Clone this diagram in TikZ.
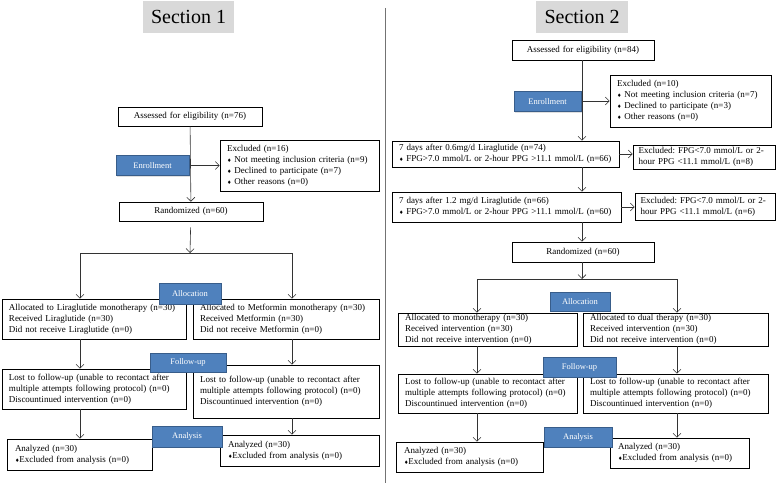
\documentclass[tikz,border=0pt]{standalone}
\usepackage{fontspec}
\setmainfont{Liberation Serif}
\newfontfamily\symfont{DejaVu Sans}
\usetikzlibrary{arrows.meta,shadows}
\definecolor{phaseblue}{HTML}{4F81BD}
\definecolor{phaseedge}{HTML}{385D8A}
\newcommand{\dmd}{{\symfont\fontsize{5}{5}\selectfont ♦}}
\frenchspacing

\begin{document}
\begin{tikzpicture}[x=1pt, y=-1pt,
    box/.style ={draw, line width=0.6pt, inner xsep=7pt, inner ysep=0pt, align=left, font=\fontsize{9}{11}\selectfont},
    cbox/.style ={box, align=center},
    phase/.style ={draw=phaseedge, fill=phaseblue, line width=1pt, text=white, inner sep=0pt, font=\fontsize{8.5}{9}\selectfont, drop shadow={opacity=0.25, shadow xshift=1pt, shadow yshift=-1pt}},
    heading/.style ={fill=black!15, inner sep=0pt, font=\fontsize{20}{22}\selectfont},
    ln/.style ={draw=black!80, line width=0.6pt},
    arr/.style ={ln, -{Straight Barb[length=4pt, width=8pt]}}]
   \useasboundingbox (0,0) rectangle (778,486);
   \draw[black!55, line width=0.8pt] (385,8) -- (385,483);

   \node[heading, minimum width=91pt, minimum height=32pt] (title1) at (188.5,17) {Section 1};
   \node[cbox, text width=130pt, minimum height=19pt] (asses1) at (190,116.5) {Assessed for eligibility (n=76)};
   \node[box, text width=145pt, minimum height=51pt] (excl1) at (299.5,165.5) {Excluded (n=16)\\ \dmd\ Not meeting inclusion criteria (n=9)\\ \dmd\ Declined to participate (n=7)\\ \dmd\ Other reasons (n=0)};
   \node[cbox, text width=130pt, minimum height=19pt] (rand1) at (191,211.5) {Randomized (n=60)};
   \node[box, text width=170pt, minimum height=40pt] (allocL1) at (94,319) {Allocated to Liraglutide monotherapy (n=30)\\ Received Liraglutide (n=30)\\ Did not receive Liraglutide (n=0)};
   \node[box, text width=172pt, minimum height=40pt] (allocR1) at (286,319) {Allocated to Metformin monotherapy (n=30)\\ Received Metformin (n=30)\\ Did not receive Metformin (n=0)};
   \node[box, text width=170pt, minimum height=40pt] (follL1) at (94,389) {Lost to follow-up (unable to recontact after\\ multiple attempts following protocol) (n=0)\\ Discountinued intervention (n=0)};
   \node[box, text width=172pt, minimum height=53pt] (follR1) at (286,391.5) {Lost to follow-up (unable to recontact after\\ multiple attempts following protocol) (n=0)\\ Discountinued intervention (n=0)};
   \node[box, text width=129pt, inner xsep=8pt, minimum height=31pt] (anaL1) at (79.5,454.5) {Analyzed (n=30)\\ \dmd Excluded from analysis (n=0)};
   \node[box, text width=143pt, inner xsep=8pt, minimum height=31pt] (anaR1) at (299.5,450.5) {Analyzed (n=30)\\ \dmd Excluded from analysis (n=0)};
   \coordinate (br1) at (190,253);
   \coordinate (brL1) at (80,253);
   \coordinate (brR1) at (292,253);

   \draw[arr] (asses1) to (rand1);
   \draw[arr] (asses1.south |- excl1.west) to (excl1.west);
   \draw[arr, shorten <=6pt] (rand1) to (br1);
   \draw[ln] (brL1) to (brR1);
   \draw[arr] (brL1) to (brL1 |- allocL1.north);
   \draw[arr] (brR1) to (brR1 |- allocR1.north);
   \draw[arr] (brL1 |- allocL1.south) to (brL1 |- follL1.north);
   \draw[arr] (brR1 |- allocR1.south) to (brR1 |- follR1.north);
   \draw[arr] (brL1 |- follL1.south) to (brL1 |- anaL1.north);
   \draw[arr] (brR1 |- follR1.south) to (brR1 |- anaR1.north);

   \node[phase, minimum width=73pt, minimum height=20pt] (enrol1) at (152.5,166) {Enrollment};
   \node[phase, minimum width=62pt, minimum height=21pt] (alloc1) at (190,293.5) {Allocation};
   \node[phase, minimum width=76pt, minimum height=19pt] (follow1) at (188,362.5) {Follow-up};
   \node[phase, minimum width=70pt, minimum height=21pt] (analy1) at (187,436.5) {Analysis};

   \node[heading, minimum width=92pt, minimum height=32pt] (title2) at (582,17) {Section 2};
   \node[cbox, text width=128pt, minimum height=20pt] (asses2) at (583,50) {Assessed for eligibility (n=84)};
   \node[box, text width=147pt, minimum height=52pt] (excl2) at (690.5,101) {Excluded (n=10)\\ \dmd\ Not meeting inclusion criteria (n=7)\\ \dmd\ Declined to participate (n=3)\\ \dmd\ Other reasons (n=0)};
   \node[box, text width=213pt, minimum height=26pt] (day06) at (505.5,154) {7 days after 0.6mg/d Liraglutide (n=74)\\ \dmd\ FPG>7.0 mmol/L or 2-hour PPG >11.1 mmol/L (n=66)};
   \node[box, text width=131pt, inner xsep=5.5pt, minimum height=24pt] (exfpg1) at (704,157) {Excluded: FPG<7.0 mmol/L or 2-\\ hour PPG <11.1 mmol/L (n=8)};
   \node[box, text width=215pt, minimum height=30pt] (day12) at (506.5,207) {7 days after 1.2 mg/d Liraglutide (n=66)\\ \dmd\ FPG>7.0 mmol/L or 2-hour PPG >11.1 mmol/L (n=60)};
   \node[box, text width=129pt, inner xsep=5.5pt, minimum height=27pt] (exfpg2) at (705,206.5) {Excluded: FPG<7.0 mmol/L or 2-\\ hour PPG <11.1 mmol/L (n=6)};
   \node[cbox, text width=128pt, minimum height=20pt] (rand2) at (583,252) {Randomized (n=60)};
   \node[box, text width=165pt, minimum height=33pt] (allocL2) at (487.5,329.5) {Allocated to monotherapy (n=30)\\ Received intervention (n=30)\\ Did not receive intervention (n=0)};
   \node[box, text width=171pt, minimum height=33pt] (allocR2) at (675.5,329.5) {Allocated to dual therapy (n=30)\\ Received intervention (n=30)\\ Did not receive intervention (n=0)};
   \node[box, text width=165pt, minimum height=39pt] (follL2) at (487.5,393.5) {Lost to follow-up (unable to recontact after\\ multiple attempts following protocol) (n=0)\\ Discountinued intervention (n=0)};
   \node[box, text width=171pt, minimum height=39pt] (follR2) at (675.5,393.5) {Lost to follow-up (unable to recontact after\\ multiple attempts following protocol) (n=0)\\ Discountinued intervention (n=0)};
   \node[box, text width=131pt, inner xsep=8pt, minimum height=30pt] (anaL2) at (469.5,457) {Analyzed (n=30)\\ \dmd Excluded from analysis (n=0)};
   \node[box, text width=123pt, inner xsep=8pt, minimum height=30pt] (anaR2) at (679.5,453) {Analyzed (n=30)\\ \dmd Excluded from analysis (n=0)};
   \coordinate (br2) at (582,279);
   \coordinate (brL2) at (477,279);
   \coordinate (brR2) at (677,279);

   \draw[arr] (br2 |- asses2.south) to (br2 |- day06.north);
   \draw[arr] (br2 |- excl2.west) to (excl2.west);
   \draw[arr] (day06.east) to (day06.east -| exfpg1.west);
   \draw[arr] (br2 |- day06.south) to (br2 |- day12.north);
   \draw[arr] (day12.east) to (day12.east -| exfpg2.west);
   \draw[arr] (br2 |- day12.south) to (br2 |- rand2.north);
   \draw[arr] (br2 |- rand2.south) to (br2);
   \draw[ln] (brL2) to (brR2);
   \draw[arr] (brL2) to (brL2 |- allocL2.north);
   \draw[arr] (brR2) to (brR2 |- allocR2.north);
   \draw[arr] (brL2 |- allocL2.south) to (brL2 |- follL2.north);
   \draw[arr] (brR2 |- allocR2.south) to (brR2 |- follR2.north);
   \draw[arr] (brL2 |- follL2.south) to (brL2 |- anaL2.north);
   \draw[arr] (brR2 |- follR2.south) to (brR2 |- anaR2.north);

   \node[phase, minimum width=67pt, minimum height=20pt] (enrol2) at (547.5,102) {Enrollment};
   \node[phase, minimum width=60pt, minimum height=19pt] (alloc2) at (580,301.5) {Allocation};
   \node[phase, minimum width=73pt, minimum height=20pt] (follow2) at (579.5,367) {Follow-up};
   \node[phase, minimum width=68pt, minimum height=20pt] (analy2) at (578,437) {Analysis};
 \end{tikzpicture}
\end{document}
